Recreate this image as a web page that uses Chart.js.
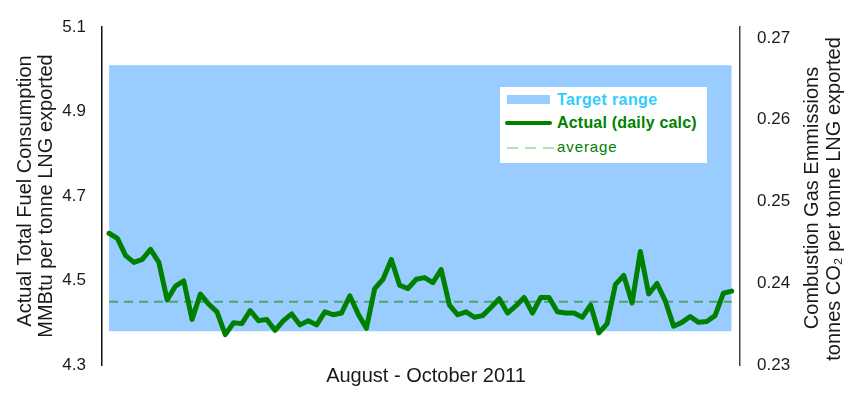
<!DOCTYPE html>
<html>
<head>
<meta charset="utf-8">
<script src="https://cdn.jsdelivr.net/npm/chart.js@4.4.1/dist/chart.umd.min.js"></script>
<style>
  body { margin: 0; background: #fff; }
  #wrap { position: relative; width: 855px; height: 397px; }
  #legend {
    position: absolute; left: 500px; top: 87px; width: 207px; height: 76px;
    background: #fff; font-family: "Liberation Sans", Arial, sans-serif;
  }
  .row { position: absolute; left: 57px; font-size: 16px; line-height: 18px; white-space: nowrap; }
  .sw { position: absolute; }
</style>
</head>
<body>
<div id="wrap">
  <canvas id="fuelChart"></canvas>
  <div id="legend">
    <div class="sw" style="left:7px;top:8px;width:43px;height:9px;background:#99ccff"></div>
    <div class="row" style="top:4px;color:#33ccff;font-weight:bold;letter-spacing:0.4px">Target range</div>
    <div class="sw" style="left:5px;top:34px;width:47px;height:4px;background:#008000;border-radius:2px"></div>
    <div class="row" style="top:27px;color:#008000;font-weight:bold;letter-spacing:0.2px">Actual (daily calc)</div>
    <div class="sw" style="left:7px;top:60px;width:48px;height:2px;background:repeating-linear-gradient(90deg,#b4e0b4 0 11px,transparent 11px 18px)"></div>
    <div class="row" style="top:51px;color:#008000;font-size:15px;letter-spacing:0.9px">average</div>
  </div>
</div>
<script>
// daily fuel consumption, MMBtu per tonne LNG (Aug - Oct 2011)
const actual = [
  4.612, 4.600, 4.559, 4.543, 4.550, 4.574, 4.543, 4.454, 4.487, 4.499,
  4.408, 4.468, 4.444, 4.426, 4.372, 4.400, 4.398, 4.429, 4.405, 4.408,
  4.382, 4.405, 4.421, 4.395, 4.405, 4.395, 4.426, 4.419, 4.423, 4.464,
  4.421, 4.387, 4.481, 4.503, 4.550, 4.489, 4.481, 4.503, 4.507, 4.495,
  4.526, 4.442, 4.419, 4.426, 4.413, 4.417, 4.436, 4.457, 4.423, 4.440,
  4.460, 4.423, 4.460, 4.460, 4.426, 4.423, 4.423, 4.413, 4.442, 4.376,
  4.398, 4.491, 4.512, 4.447, 4.569, 4.468, 4.493, 4.452, 4.392, 4.401,
  4.415, 4.401, 4.403, 4.417, 4.470, 4.475
];
const averageValue = 4.45;
const targetHigh = 5.01;
const targetLow = 4.38;

const leftTicks = [4.3, 4.5, 4.7, 4.9, 5.1];
const rightTicks = [0.23, 0.24, 0.25, 0.26, 0.27];

const leftTitle = ['Actual Total Fuel Consumption', 'MMBtu per tonne LNG exported'];
const rightTitle = ['Combustion Gas Emmissions', 'tonnes CO\u2082 per tonne LNG exported'];
const xTitle = 'August - October 2011';

const FONT = '"Liberation Sans", Arial, sans-serif';

const pts = arr => arr.map((v, i) => ({ x: i, y: v }));

// titles are drawn by hand, the right one reads bottom-up like the left one
const axisTitles = {
  id: 'axisTitles',
  afterDraw(chart) {
    const c = chart.ctx;
    c.save();
    c.fillStyle = '#1a1a1a';
    c.font = '20px ' + FONT;
    c.textAlign = 'center';
    c.textBaseline = 'middle';
    const up = (txt, x, y) => {
      c.save(); c.translate(x, y); c.rotate(-Math.PI / 2); c.fillText(txt, 0, 0); c.restore();
    };
    up(leftTitle[0], 25, 191);
    up(leftTitle[1], 46, 196);
    up(rightTitle[0], 812, 198);
    up(rightTitle[1], 834, 199);
    c.fillText(xTitle, 426, 376);
    c.restore();
  }
};

new Chart(document.getElementById('fuelChart'), {
  type: 'line',
  data: {
    datasets: [
      {
        label: 'Actual (daily calc)',
        data: pts(actual),
        borderColor: '#008000', borderWidth: 5,
        pointRadius: 0, tension: 0,
        borderJoinStyle: 'round', borderCapStyle: 'round',
        order: 0
      },
      {
        label: 'average',
        data: pts(actual.map(() => averageValue)),
        borderColor: '#4fa36c', borderWidth: 2, borderDash: [9, 6],
        pointRadius: 0,
        order: 1
      },
      {
        label: 'Target range',
        data: pts(actual.map(() => targetHigh)),
        borderWidth: 0, borderColor: 'rgba(0,0,0,0)',
        backgroundColor: '#99ccff',
        fill: { value: targetLow },
        pointRadius: 0,
        order: 2
      }
    ]
  },
  options: {
    responsive: true, maintainAspectRatio: false, animation: false,
    layout: { padding: { top: 23, bottom: 32 } },
    plugins: { legend: { display: false }, tooltip: { enabled: false } },
    scales: {
      x: { type: 'linear', display: false, min: -0.85, max: 76.0 },
      y: {
        position: 'left', min: 4.3, max: 5.1,
        afterBuildTicks: s => { s.ticks = leftTicks.map(v => ({ value: v })); },
        afterFit: s => { s.width = 102; },
        grid: { display: false, drawTicks: false },
        border: { display: true, color: '#111', width: 1.5 },
        ticks: { padding: 16, color: '#1a1a1a', font: { family: FONT, size: 17 }, callback: v => v.toFixed(1) }
      },
      y1: {
        position: 'right', min: 0.23, max: 0.27133,
        afterBuildTicks: s => { s.ticks = rightTicks.map(v => ({ value: v })); },
        afterFit: s => { s.width = 115; },
        grid: { display: false, drawTicks: false },
        border: { display: true, color: '#444', width: 1.5 },
        ticks: { padding: 17, color: '#1a1a1a', font: { family: FONT, size: 17 }, callback: v => v.toFixed(2) }
      }
    }
  },
  plugins: [axisTitles]
});
</script>
</body>
</html>
